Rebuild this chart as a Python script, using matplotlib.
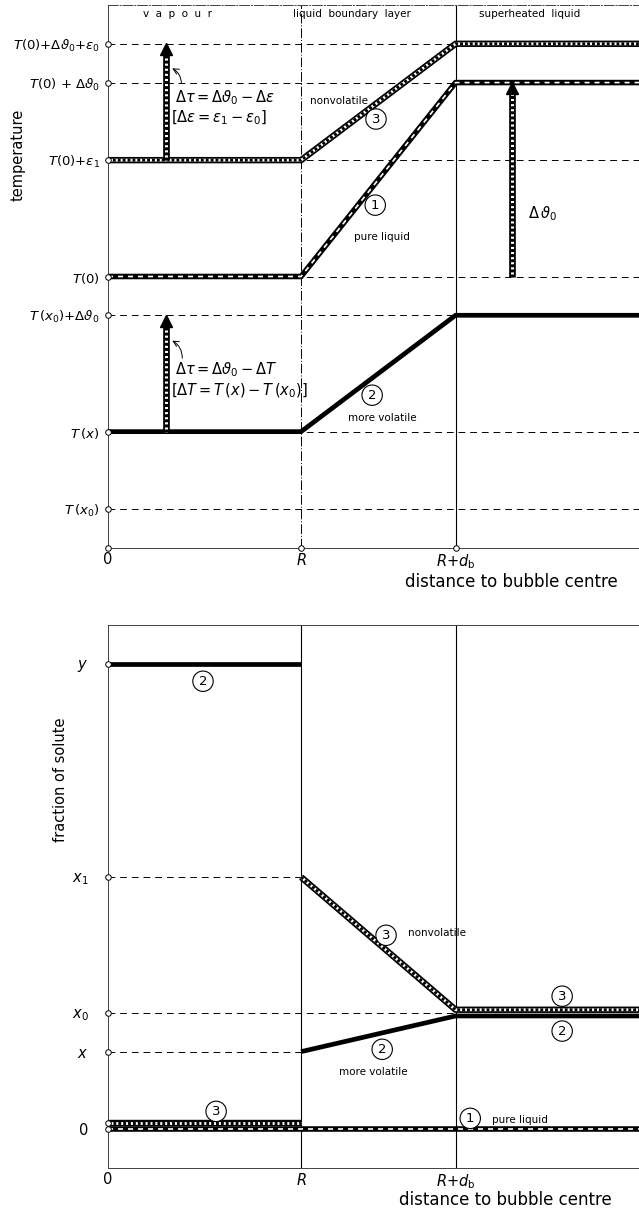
import matplotlib.pyplot as plt

plt.rcParams['font.family'] = ['DejaVu Sans']
plt.rcParams['mathtext.fontset'] = 'dejavusans'

# distance to bubble centre: 0, R, R+d_b, far field (schematic units)
dist = [0, 5, 9, 13.75]
dist_ticks = [0, 5, 9]
dist_labels = ['0', r'$R$', r'$R$+$d_{\rm b}$']
regions = ['v  a  p  o  u  r', 'liquid  boundary  layer', 'superheated  liquid']
region_x = [1.8, 6.32, 10.93]

# upper panel: temperature levels
temp_ticks = [1, 3, 6, 7, 10, 12, 13]
temp_labels = [r'$T\,(x_0)$', r'$T\,(x)$', r'$T\,(x_0)$+$\Delta\vartheta_0$', r'$T$(0)',
               r'$T$(0)+$\varepsilon_1$', r'$T$(0) + $\Delta\vartheta_0$',
               r'$T$(0)+$\Delta\vartheta_0$+$\varepsilon_0$']
temp_pure = [7, 7, 12, 12]       # 1 pure liquid
temp_morevol = [3, 3, 6, 6]      # 2 more volatile
temp_nonvol = [10, 10, 13, 13]   # 3 nonvolatile
# superheating arrows: x, from, to
arr_x = [1.5, 10.45, 1.5]
arr_from = [10, 7, 3]
arr_to = [13, 12, 6]

# lower panel: fraction of solute
frac_ticks = [0, 2, 3, 6.5, 12]
frac_labels = ['0', r'$x$', r'$x_0$', r'$x_1$', r'$y$']
frac_pure = [0, 0, 0, 0]
frac_morevol_vap = [12, 12]
frac_morevol_liq = [2, 2.92, 2.92]
frac_nonvol_vap = [0.15, 0.15]
frac_nonvol_liq = [6.5, 3.08, 3.08]


def hatched(ax, xs, ys, lw=4.6):
    ax.plot(xs, ys, color='black', lw=lw, solid_capstyle='butt', zorder=4)
    ax.plot(xs, ys, color='white', lw=lw * 0.45, solid_capstyle='butt', zorder=4)
    ax.plot(xs, ys, color='black', lw=lw * 0.45, ls=(0, (1.0, 0.7)), zorder=4)


def banded(ax, xs, ys, lw=4.0):
    ax.plot(xs, ys, color='black', lw=lw, solid_capstyle='butt', zorder=4)
    ax.plot(xs, ys, color='white', lw=lw * 0.3, ls=(0, (3, 3)), zorder=4)


def circ(ax, x, y, s):
    ax.text(x, y, s, fontsize=9.5, ha='center', va='center', zorder=6,
            bbox=dict(boxstyle='circle,pad=0.28', fc='white', ec='black', lw=0.8))


def frame(ax, ylim):
    ax.set_xlim(0, 13.75)
    ax.set_ylim(*ylim)
    ax.spines['right'].set_visible(False)
    for s in ['left', 'bottom', 'top']:
        ax.spines[s].set_linewidth(0.7)
        ax.spines[s].set_color('0.25')
    ax.set_xticks(dist_ticks, dist_labels, fontsize=10.5)
    ax.tick_params(length=0)
    ax.tick_params(axis='x', pad=3)
    ax.axvline(dist[2], color='black', lw=0.8, zorder=2)


fig = plt.figure(figsize=(6.39, 12.13), dpi=100)
ax1 = fig.add_axes([108 / 639, (1213 - 548) / 1213, 531 / 639, 543 / 1213])
ax2 = fig.add_axes([108 / 639, (1213 - 1168) / 1213, 531 / 639, 543 / 1213])

# ---------------- upper panel ----------------
frame(ax1, (0, 14))
ax1.spines['top'].set_linestyle((0, (10, 2, 1, 2)))
ax1.axvline(dist[1], color='black', lw=0.7, ls=(0, (10, 2, 1, 2)), zorder=2)
ax1.set_yticks(temp_ticks, temp_labels, fontsize=9.5)
ax1.tick_params(axis='y', pad=6)
for t in temp_ticks:
    ax1.axhline(t, color='black', lw=0.7, ls=(0, (7, 5)), zorder=1)
ax1.plot([0] * len(temp_ticks), temp_ticks, 'o', ms=4, mfc='white', mec='black', mew=0.7,
         clip_on=False, zorder=7)
ax1.plot(dist_ticks, [0] * 3, 'o', ms=4, mfc='white', mec='black', mew=0.7,
         clip_on=False, zorder=7)

banded(ax1, dist, temp_pure)
ax1.plot(dist, temp_morevol, color='black', lw=3.4, solid_capstyle='butt', zorder=4)
hatched(ax1, dist, temp_nonvol)

for x, y0, y1 in zip(arr_x, arr_from, arr_to):
    hatched(ax1, [x, x], [y0, y1 - 0.2], lw=4.8)
    ax1.plot(x, y1 - 0.14, marker='^', ms=8, color='black', zorder=5)

for x, s in zip(region_x, regions):
    ax1.text(x, 13.77, s, fontsize=7.5, ha='center', va='center')

ax1.text(1.74, 11.62, r'$\Delta\tau = \Delta\vartheta_0 - \Delta\varepsilon$', fontsize=10.5, va='center')
ax1.text(1.62, 11.08, r'$[\Delta\varepsilon = \varepsilon_1 - \varepsilon_0]$', fontsize=10.5, va='center')
ax1.annotate('', xy=(1.6, 12.4), xytext=(1.9, 11.9),
             arrowprops=dict(arrowstyle='->', lw=0.7, connectionstyle='arc3,rad=0.35'))
ax1.text(1.74, 4.59, r'$\Delta\tau = \Delta\vartheta_0 - \Delta T$', fontsize=10.5, va='center')
ax1.text(1.62, 4.05, r'$[\Delta T = T\,(x) - T\,(x_0)]$', fontsize=10.5, va='center')
ax1.annotate('', xy=(1.6, 5.38), xytext=(1.92, 4.82),
             arrowprops=dict(arrowstyle='->', lw=0.7, connectionstyle='arc3,rad=0.35'))
ax1.text(10.88, 8.63, r'$\Delta\,\vartheta_0$', fontsize=10.5, va='center')

ax1.text(5.23, 11.52, 'nonvolatile', fontsize=7.5, va='center')
circ(ax1, 6.94, 11.06, '3')
circ(ax1, 6.92, 8.84, '1')
ax1.text(7.1, 8.02, 'pure liquid', fontsize=7.5, ha='center', va='center')
circ(ax1, 6.84, 3.94, '2')
ax1.text(7.1, 3.35, 'more volatile', fontsize=7.5, ha='center', va='center')

ax1.text(-0.17, 0.724, 'temperature', rotation=90, fontsize=10.5, ha='center', va='center',
         transform=ax1.transAxes)
ax1.text(10.44, -0.063, 'distance to bubble centre', fontsize=12, ha='center', va='center',
         transform=ax1.get_xaxis_transform())

# ---------------- lower panel ----------------
frame(ax2, (-1, 13))
ax2.axvline(dist[1], color='black', lw=0.8, zorder=2)
ax2.set_yticks(frac_ticks, frac_labels, fontsize=10.5)
ax2.tick_params(axis='y', pad=14)
ax2.plot([0, dist[1]], [frac_ticks[1]] * 2, color='black', lw=0.7, ls=(0, (7, 5)), zorder=1)
ax2.plot([0, dist[2]], [frac_ticks[2]] * 2, color='black', lw=0.7, ls=(0, (7, 5)), zorder=1)
ax2.plot([0, dist[1]], [frac_ticks[3]] * 2, color='black', lw=0.7, ls=(0, (7, 5)), zorder=1)
ax2.plot([0] * 6, frac_ticks + frac_nonvol_vap[:1], 'o', ms=4, mfc='white', mec='black',
         mew=0.7, clip_on=False, zorder=7)

hatched(ax2, dist[:2], frac_nonvol_vap)
hatched(ax2, dist[1:], frac_nonvol_liq)
banded(ax2, dist, frac_pure)
ax2.plot(dist[:2], frac_morevol_vap, color='black', lw=3.4, solid_capstyle='butt', zorder=4)
ax2.plot(dist[1:], frac_morevol_liq, color='black', lw=3.4, solid_capstyle='butt', zorder=4)

circ(ax2, 2.46, 11.55, '2')
circ(ax2, 7.2, 5.0, '3')
ax2.text(7.77, 5.05, 'nonvolatile', fontsize=7.5, va='center')
circ(ax2, 7.1, 2.06, '2')
ax2.text(6.87, 1.47, 'more volatile', fontsize=7.5, ha='center', va='center')
circ(ax2, 11.76, 3.43, '3')
circ(ax2, 11.76, 2.53, '2')
circ(ax2, 9.38, 0.28, '1')
ax2.text(9.95, 0.25, 'pure liquid', fontsize=7.5, va='center')
circ(ax2, 2.8, 0.46, '3')

ax2.text(-0.09, 0.715, 'fraction of solute', rotation=90, fontsize=10.5, ha='center', va='center',
         transform=ax2.transAxes)
ax2.text(10.3, -0.059, 'distance to bubble centre', fontsize=12, ha='center', va='center',
         transform=ax2.get_xaxis_transform())

fig.savefig('out.png', dpi=100)
